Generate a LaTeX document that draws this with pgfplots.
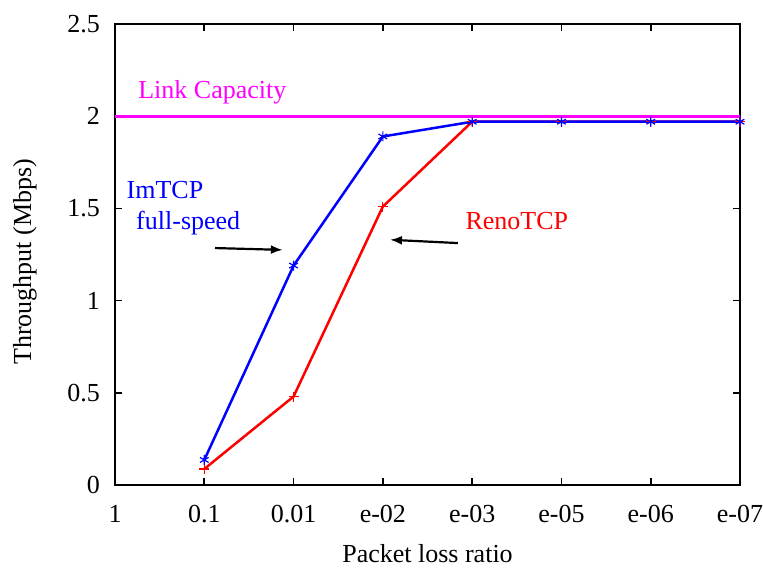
\documentclass[border=0pt]{standalone}
\usepackage{fontspec}
\setmainfont{Liberation Serif}
\usepackage{pgfplots}
\pgfplotsset{compat=1.18}
\usetikzlibrary{arrows.meta}
\definecolor{mag}{RGB}{255,0,255}
\definecolor{bl}{RGB}{0,0,255}
\definecolor{rd}{RGB}{255,0,0}
\newcommand{\tl}[1]{\mbox{\rmfamily\fontsize{13bp}{15bp}\selectfont #1}}
\begin{document}
\fontsize{13bp}{15bp}\selectfont
\begin{tikzpicture}
\begin{axis}[
  name=ax,
  scale only axis,
  width=312.5bp, height=230.5bp,
  xmin=0, xmax=7, ymin=0, ymax=2.5,
  xtick={0,1,2,3,4,5,6,7},
  xticklabels={\tl{1},\tl{0.1},\tl{0.01},\tl{e-02},\tl{e-03},\tl{e-05},\tl{e-06},\tl{e-07}},
  ytick={0,0.5,1,1.5,2,2.5},
  yticklabels={\tl{0},\tl{0.5},\tl{1},\tl{1.5},\tl{2},\tl{2.5}},
  tick align=inside,
  major tick length=3.5bp,
  every tick/.style={black, line width=0.8bp},
  axis line style={line width=1bp},
  xticklabel style={anchor=base, yshift=-18.5bp},
  yticklabel style={anchor=east, xshift=-3bp},
  xlabel={Packet loss ratio},
  ylabel={Throughput (Mbps)},
  xlabel style={at={(axis description cs:0.5,-0.169)}, anchor=base, font=\rmfamily\fontsize{13bp}{15bp}\selectfont},
  ylabel style={at={(axis description cs:-0.144,0.484)}, anchor=center, font=\rmfamily\fontsize{13bp}{15bp}\selectfont},
  clip=false,
]
\addplot[mag, line width=1.5bp, no marks] coordinates {(0,2) (7,2)};
\addplot[rd, line width=1.25bp, mark=+, mark size=2.5bp, mark options={line width=0.6bp}] coordinates {
  (1,0.087) (2,0.48) (3,1.51) (4,1.97) (5,1.97) (6,1.97) (7,1.97)};
\addplot[bl, line width=1.25bp, mark=asterisk, mark size=2.5bp, mark options={line width=0.6bp}] coordinates {
  (1,0.136) (2,1.19) (3,1.89) (4,1.97) (5,1.97) (6,1.97) (7,1.97)};
\node[mag, anchor=center, font=\rmfamily] at (axis cs:1.09,2.13) {Link Capacity};
\node[bl, anchor=center, font=\rmfamily] at (axis cs:0.56,1.60) {ImTCP};
\node[bl, anchor=center, font=\rmfamily] at (axis cs:0.82,1.42) {full-speed};
\node[rd, anchor=center, font=\rmfamily] at (axis cs:4.5,1.43) {RenoTCP};
\draw[-{Latex[length=6bp,width=4.5bp]}, line width=1.1bp] (axis cs:1.12,1.285) -- (axis cs:1.88,1.275);
\draw[-{Latex[length=6bp,width=4.5bp]}, line width=1.1bp] (axis cs:3.84,1.312) -- (axis cs:3.08,1.33);
\end{axis}
\pgfresetboundingbox
\path[use as bounding box] ([shift={(-57.5bp,-42bp)}]ax.south west) rectangle ([shift={(11.5bp,12bp)}]ax.north east);
\end{tikzpicture}
\end{document}
